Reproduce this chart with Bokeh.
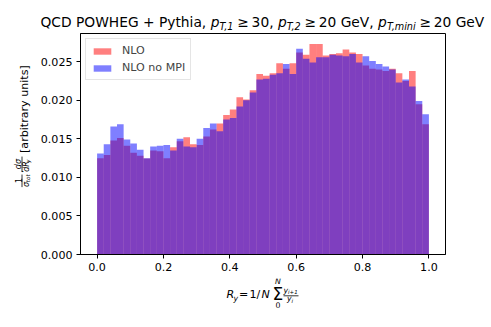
import numpy as np
from bokeh.plotting import figure
from bokeh.layouts import column, row
from bokeh.models import (Legend, LegendItem, FixedTicker, PrintfTickFormatter, Range1d)
from bokeh.core.properties import value
from bokeh.embed import file_html
from bokeh.resources import INLINE

# ---------------- data ----------------
bin_edges = np.linspace(0.0, 1.0, 51)
nlo = [0.0125, 0.0129, 0.0148, 0.0151, 0.0141, 0.0132, 0.0128, 0.01245, 0.0135, 0.0134,
       0.0125, 0.0139, 0.0147, 0.0152, 0.0143, 0.0142, 0.0153, 0.0162, 0.0170, 0.0181,
       0.0188, 0.0204, 0.0201, 0.0213, 0.0234, 0.0232, 0.0235, 0.0248, 0.0241, 0.0248,
       0.0262, 0.0259, 0.0273, 0.0273, 0.0258, 0.0260, 0.0261, 0.0266, 0.0262, 0.0260,
       0.0245, 0.0241, 0.0240, 0.0238, 0.0241, 0.0235, 0.0225, 0.0238, 0.0195, 0.0169]
nlo_no_mpi = [0.0131, 0.0143, 0.0166, 0.0169, 0.0149, 0.0144, 0.0136, 0.0125, 0.0140, 0.0141,
              0.0142, 0.0135, 0.0150, 0.0140, 0.0139, 0.0150, 0.0164, 0.0170, 0.0160, 0.0175,
              0.0177, 0.0192, 0.0200, 0.0210, 0.0227, 0.0228, 0.0233, 0.0235, 0.0247, 0.0234,
              0.0267, 0.0254, 0.0249, 0.0256, 0.0256, 0.0259, 0.0258, 0.0257, 0.0260, 0.0249,
              0.0257, 0.0251, 0.0247, 0.0244, 0.0240, 0.0223, 0.0227, 0.0218, 0.0199, 0.0182]
series_labels = ["NLO", "NLO no MPI"]
x_ticks = [0.0, 0.2, 0.4, 0.6, 0.8, 1.0]
y_ticks = [0.0, 0.005, 0.010, 0.015, 0.020, 0.025]

FONT = "DejaVu Sans"
TOTAL_W = 491
TITLE_H = 32
YLAB_W = 32
MAIN_W, MAIN_H = TOTAL_W - YLAB_W, 246
XLAB_H = 327 - TITLE_H - MAIN_H
MID = 0.346  # distance (in em) from alphabetic baseline up to the text box middle


def blank(w, h):
    f = figure(width=w, height=h, output_backend="svg", toolbar_location=None,
               title=None, x_range=Range1d(0, w), y_range=Range1d(h, 0),
               x_axis_type=None, y_axis_type=None, min_border=0)
    f.outline_line_color = None
    f.background_fill_color = "white"
    f.border_fill_color = "white"
    return f


def put(f, ox, oy, text, X, base, size, italic=False):
    """horizontal text piece; base = page y of the alphabetic baseline"""
    f.text(x=[X - ox], y=[base - MID * size - oy], text=[text],
           text_font=value(FONT), text_font_size=value(f"{size}px"),
           text_font_style="italic" if italic else "normal",
           text_color="black", text_align="left", text_baseline="middle")


def vput(f, ox, oy, text, Xc, Ystart, size, italic=False):
    """rotated (bottom-to-top) text piece centred on page x = Xc"""
    f.text(x=[Xc - ox], y=[Ystart - oy], text=[text], angle=np.pi / 2,
           text_font=value(FONT), text_font_size=value(f"{size}px"),
           text_font_style="italic" if italic else "normal",
           text_color="black", text_align="left", text_baseline="middle")


def bar(f, ox, oy, X0, Y0, X1, Y1):
    f.segment(x0=[X0 - ox], y0=[Y0 - oy], x1=[X1 - ox], y1=[Y1 - oy],
              line_color="black", line_width=0.8)


# ---------------- main figure ----------------
ymax = max(max(nlo), max(nlo_no_mpi)) * 1.05
p = figure(width=MAIN_W, height=MAIN_H, output_backend="svg", toolbar_location=None,
           title=None, x_range=(-0.05, 1.05), y_range=(0, ymax),
           min_border_left=48, min_border_right=46, min_border_top=1, min_border_bottom=24)
p.grid.visible = False
p.outline_line_color = "black"
p.outline_line_width = 1
p.background_fill_color = "white"
p.border_fill_color = "white"

for ax in (p.xaxis[0], p.yaxis[0]):
    ax.axis_line_color = "black"
    ax.major_tick_line_color = "black"
    ax.minor_tick_line_color = None
    ax.major_tick_out = 4
    ax.major_tick_in = 0
    ax.major_label_text_color = "black"
    ax.major_label_text_font = FONT
    ax.major_label_text_font_size = "11.1px"
    ax.major_label_standoff = 4

p.xaxis.ticker = FixedTicker(ticks=x_ticks)
p.xaxis.formatter = PrintfTickFormatter(format="%.1f")
p.yaxis.ticker = FixedTicker(ticks=y_ticks)
p.yaxis.formatter = PrintfTickFormatter(format="%.3f")

r1 = p.quad(left=bin_edges[:-1], right=bin_edges[1:], bottom=0, top=nlo,
            fill_color="#ff0000", fill_alpha=0.5, line_color=None)
r2 = p.quad(left=bin_edges[:-1], right=bin_edges[1:], bottom=0, top=nlo_no_mpi,
            fill_color="#0000ff", fill_alpha=0.5, line_color=None)

legend = Legend(items=[LegendItem(label=series_labels[0], renderers=[r1]),
                       LegendItem(label=series_labels[1], renderers=[r2])],
                location="top_left", margin=5, padding=5, spacing=4,
                label_standoff=9, glyph_width=22, glyph_height=8, label_height=11,
                label_text_font=FONT, label_text_font_size="11.1px",
                border_line_color="#cccccc", border_line_width=1,
                background_fill_color="white", background_fill_alpha=0.8)
p.add_layout(legend)

# ---------------- title ----------------
t = blank(TOTAL_W, TITLE_H)
TS, SS, TB = 13.8, 9.66, 26.7
SB = TB + 2.6
put(t, 0, 0, "QCD POWHEG + Pythia,", 40, TB, TS)
put(t, 0, 0, "p", 210.3, TB, TS, italic=True)
put(t, 0, 0, "T,1", 219.0, SB, SS, italic=True)
put(t, 0, 0, "\u2265", 236.8, TB, TS)
put(t, 0, 0, "30,", 251.1, TB, TS)
put(t, 0, 0, "p", 277.4, TB, TS, italic=True)
put(t, 0, 0, "T,2", 286.2, SB, SS, italic=True)
put(t, 0, 0, "\u2265", 304.0, TB, TS)
put(t, 0, 0, "20 GeV,", 318.2, TB, TS)
put(t, 0, 0, "p", 377.6, TB, TS, italic=True)
put(t, 0, 0, "T,mini", 386.4, SB, SS, italic=True)
put(t, 0, 0, "\u2265", 419.0, TB, TS)
put(t, 0, 0, "20 GeV", 433.2, TB, TS)

# ---------------- y label (rotated) ----------------
yl = blank(YLAB_W, MAIN_H)
OY = TITLE_H
vput(yl, 0, OY, "1", 18, 198.5, 8)
bar(yl, 0, OY, 21.5, 203, 21.5, 189)
vput(yl, 0, OY, "\u03c3", 25.5, 203, 8, italic=True)
vput(yl, 0, OY, "tot", 27.5, 197.5, 5.6, italic=True)
vput(yl, 0, OY, "\u00b7", 22, 187.5, 11.1)
vput(yl, 0, OY, "d\u03c3", 17.5, 183, 8, italic=True)
bar(yl, 0, OY, 21.5, 186, 21.5, 169)
vput(yl, 0, OY, "dR", 25.5, 186, 8, italic=True)
vput(yl, 0, OY, "y", 27.5, 176, 5.6, italic=True)
vput(yl, 0, OY, "[arbitrary units]", 24, 165, 11.1)

# ---------------- x label ----------------
xl = blank(TOTAL_W, XLAB_H)
OX = TITLE_H + MAIN_H
XB = 298.3
put(xl, 0, OX, "R", 226, XB, 11.1, italic=True)
put(xl, 0, OX, "y", 233, 300.3, 7.8, italic=True)
put(xl, 0, OX, "=", 238.5, XB, 11.1)
put(xl, 0, OX, "1/", 249, XB, 11.1)
put(xl, 0, OX, "N", 261, XB, 11.1, italic=True)
put(xl, 0, OX, "\u03a3", 272, 299.2, 17)
put(xl, 0, OX, "N", 274.5, 283.3, 7.8, italic=True)
put(xl, 0, OX, "0", 275, 306.7, 7.8)
put(xl, 0, OX, "y", 283, 292.3, 7.8, italic=True)
put(xl, 0, OX, "i+1", 287.5, 293.5, 5.5, italic=True)
bar(xl, 0, OX, 283, 295.3, 298, 295.3)
put(xl, 0, OX, "y", 286.5, 301.0, 7.8, italic=True)
put(xl, 0, OX, "i", 291, 302.5, 5.5, italic=True)

layout = column(t, row(yl, p, spacing=0), xl, spacing=0)
open("out.html", "w").write(file_html(layout, INLINE))
